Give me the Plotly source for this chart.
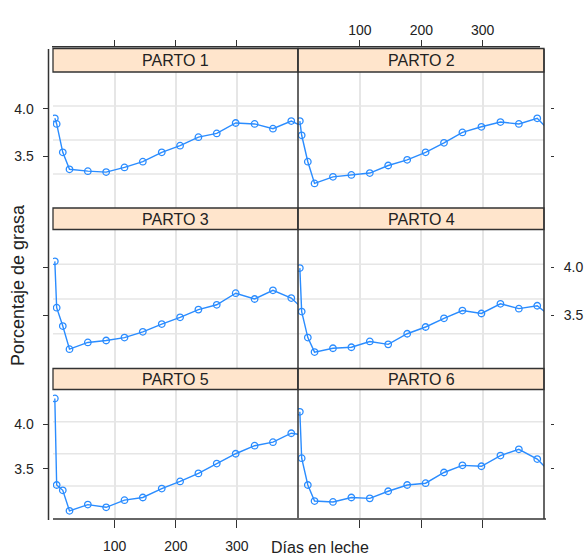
import plotly.graph_objects as go

# ---------------- data ----------------
dias = [2, 5, 15, 26, 56, 86, 116, 146, 177, 207, 237, 267, 298, 329, 359, 389, 419]

parto_1 = [3.90, 3.84, 3.54, 3.36, 3.34, 3.33, 3.38, 3.44, 3.54, 3.61, 3.70, 3.74, 3.85, 3.84, 3.79, 3.87, 3.78]
parto_2 = [3.87, 3.72, 3.44, 3.21, 3.28, 3.30, 3.32, 3.40, 3.46, 3.54, 3.64, 3.75, 3.81, 3.86, 3.84, 3.90, 3.70]
parto_3 = [4.06, 3.58, 3.39, 3.15, 3.22, 3.24, 3.27, 3.33, 3.41, 3.48, 3.56, 3.61, 3.73, 3.67, 3.76, 3.68, 3.50]
parto_4 = [3.99, 3.54, 3.27, 3.12, 3.16, 3.17, 3.23, 3.20, 3.31, 3.38, 3.47, 3.55, 3.52, 3.62, 3.57, 3.60, 3.45]
parto_5 = [4.29, 3.32, 3.26, 3.03, 3.10, 3.07, 3.15, 3.18, 3.28, 3.36, 3.45, 3.56, 3.67, 3.76, 3.80, 3.90, 3.87]
parto_6 = [4.14, 3.62, 3.32, 3.14, 3.13, 3.18, 3.17, 3.25, 3.32, 3.34, 3.46, 3.54, 3.53, 3.65, 3.72, 3.61, 3.40]

paneles = ["PARTO 1", "PARTO 2", "PARTO 3", "PARTO 4", "PARTO 5", "PARTO 6"]
series = [parto_1, parto_2, parto_3, parto_4, parto_5, parto_6]

x_ticks = [100, 200, 300]
x_tick_labels = ["100", "200", "300"]
y_ticks = [3.5, 4.0]
y_tick_labels = ["3.5", "4.0"]
x_range = [-1, 400]
y_range = [2.95, 4.39]

y_title = "Porcentaje de grasa"
x_title = "Días en leche"

# ---------------- styling / geometry ----------------
W, H = 585, 556
FONT = "Liberation Sans, Arial, sans-serif"
LINE_COL = "#333333"
GRID_COL = "#e6e6e6"
STRIP_COL = "#FFE5CC"
SERIES_COL = "#2a8cff"


def fx(p):
    return p / W


def fy(p):
    return 1 - p / H


cols = [(53, 298), (298, 544)]
# strip top, panel top, panel bottom (pixels)
rows = [(48.5, 72, 208), (208, 229.5, 368.5), (368.5, 389.5, 518)]

fig = go.Figure()
layout = dict(
    width=W, height=H,
    margin=dict(l=0, r=0, t=0, b=0),
    paper_bgcolor="white", plot_bgcolor="white",
    showlegend=False,
    font=dict(family=FONT, size=14, color="#222222"),
)
shapes = []
annotations = []

for i, (name, vals) in enumerate(zip(paneles, series)):
    r, c = divmod(i, 2)
    k = i + 1
    xa = "x" if k == 1 else f"x{k}"
    ya = "y" if k == 1 else f"y{k}"
    xkey = "xaxis" if k == 1 else f"xaxis{k}"
    ykey = "yaxis" if k == 1 else f"yaxis{k}"
    s_top, p_top, p_bot = rows[r]
    c0, c1 = cols[c]

    fig.add_trace(go.Scatter(
        x=dias, y=vals, xaxis=xa, yaxis=ya, mode="lines+markers",
        line=dict(color=SERIES_COL, width=1.4),
        marker=dict(symbol="circle-open", size=6.5, color=SERIES_COL,
                    line=dict(width=1.3, color=SERIES_COL)),
        hoverinfo="x+y", name=name,
    ))

    # x axis
    xax = dict(
        domain=[fx(c0), fx(c1)], range=x_range, tickvals=x_ticks,
        ticktext=x_tick_labels, showgrid=True, gridcolor=GRID_COL,
        gridwidth=1.5, zeroline=False, showline=False,
        tickcolor=LINE_COL, tickwidth=1.3,
        tickfont=dict(family=FONT, size=14, color="#222222"),
    )
    if r == 0:
        xax.update(side="top", anchor="free", position=fy(46.7),
                   ticks="outside", ticklen=7, showticklabels=(c == 1),
                   ticklabelstandoff=-1)
    elif r == 2:
        xax.update(side="bottom", anchor="free", position=fy(519),
                   ticks="outside", ticklen=8, showticklabels=(c == 0),
                   ticklabelstandoff=6)
    else:
        xax.update(anchor=ya, ticks="", showticklabels=False)
    layout[xkey] = xax

    # y axis
    yax = dict(
        domain=[fy(p_bot), fy(p_top)], range=y_range, tickvals=y_ticks,
        ticktext=y_tick_labels, showgrid=False, zeroline=False,
        showline=False, ticks="outside", tickcolor=LINE_COL, tickwidth=1.3,
        anchor="free",
        tickfont=dict(family=FONT, size=14, color="#222222"),
    )
    if c == 0:
        yax.update(side="left", position=fx(48.5), ticklen=6,
                   showticklabels=(r != 1), ticklabelstandoff=6)
    else:
        yax.update(side="right", position=fx(550), ticklen=3,
                   showticklabels=(r == 1), ticklabelstandoff=7)
    layout[ykey] = yax

    # horizontal grid lines (equally spaced inside the panel)
    for f in (0.25, 0.5, 0.75):
        shapes.append(dict(type="line", xref=f"{xa} domain", yref=f"{ya} domain",
                           x0=0, x1=1, y0=f, y1=f, layer="below",
                           line=dict(color=GRID_COL, width=1.5)))

    # strip
    shapes.append(dict(type="rect", xref="paper", yref="paper",
                       x0=fx(c0), x1=fx(c1), y0=fy(p_top), y1=fy(s_top),
                       fillcolor=STRIP_COL, layer="above",
                       line=dict(color=LINE_COL, width=1.3)))
    annotations.append(dict(text=name, xref="paper", yref="paper",
                            x=fx((c0 + c1) / 2), y=fy((s_top + p_top) / 2 + 0.5),
                            xanchor="center", yanchor="middle", showarrow=False,
                            font=dict(family=FONT, size=16, color="#222222")))

# frame / axis lines
frame = [
    (48.5, 49, 48.5, 520),   # left
    (52, 46.7, 540, 46.7),   # top
    (544, 49, 544, 519),     # right
    (53, 519, 546, 519),     # bottom
    (298, 48.5, 298, 518),   # divider
]
for x0, y0, x1, y1 in frame:
    shapes.append(dict(type="line", xref="paper", yref="paper",
                       x0=fx(x0), y0=fy(y0), x1=fx(x1), y1=fy(y1),
                       layer="above", line=dict(color=LINE_COL, width=1.5)))

annotations.append(dict(text=y_title, xref="paper", yref="paper",
                        x=fx(18), y=fy(285), textangle=-90,
                        xanchor="center", yanchor="middle", showarrow=False,
                        font=dict(family=FONT, size=18, color="#222222")))
annotations.append(dict(text=x_title, xref="paper", yref="paper",
                        x=fx(320), y=fy(537), xanchor="center", yanchor="top",
                        showarrow=False,
                        font=dict(family=FONT, size=16, color="#222222")))

layout["shapes"] = shapes
layout["annotations"] = annotations
fig.update_layout(**layout)

fig.write_html("out.html")
